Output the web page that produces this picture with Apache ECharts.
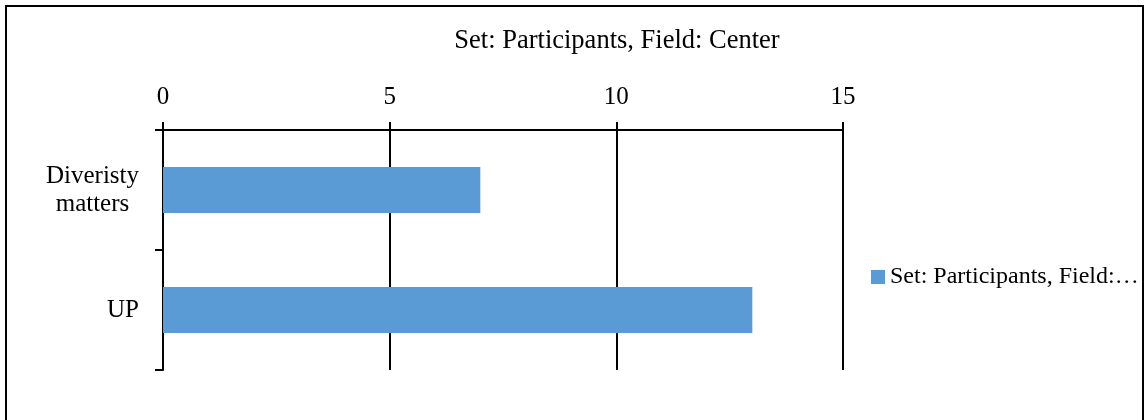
<!DOCTYPE html>
<html>
<head>
<meta charset="utf-8">
<script src="https://cdn.jsdelivr.net/npm/echarts@6/dist/echarts.min.js"></script>
<style>
html,body{margin:0;padding:0;background:#fff;}
#chart{width:1148px;height:420px;}
</style>
</head>
<body>
<div id="chart"></div>
<script>
const categories = ["Diveristy\nmatters", "UP"];
const values = [7, 13];
const seriesName = "Set: Participants, Field: Center";
const titleText = "Set: Participants, Field: Center";
const xTicks = { min: 0, max: 15, interval: 5 };

const FONT = "'Liberation Serif', 'Times New Roman', serif";
const chart = echarts.init(document.getElementById('chart'), null, { renderer: 'canvas' });
chart.setOption({
  animation: false,
  backgroundColor: '#ffffff',
  title: {
    text: titleText,
    left: 612,
    textAlign: 'center',
    top: 23,
    textStyle: { fontFamily: FONT, fontSize: 26.5, fontWeight: 'normal', color: '#000' }
  },
  legend: {
    left: 866,
    top: 260,
    itemWidth: 14,
    itemHeight: 14,
    icon: 'rect',
    data: [seriesName],
    textStyle: {
      fontFamily: FONT, fontSize: 24, color: '#000',
      width: 255, overflow: 'truncate', ellipsis: '…'
    }
  },
  grid: { left: 163, right: 305, top: 130, bottom: 50, containLabel: false },
  xAxis: {
    type: 'value',
    position: 'top',
    min: xTicks.min, max: xTicks.max, interval: xTicks.interval,
    axisLine: { show: true, lineStyle: { color: '#000', width: 2 } },
    axisTick: { show: true, length: 8, lineStyle: { color: '#000', width: 2 } },
    axisLabel: { margin: 20, fontFamily: FONT, fontSize: 25, color: '#000' },
    splitLine: { show: true, lineStyle: { color: '#000', width: 2 } }
  },
  yAxis: {
    type: 'category',
    inverse: true,
    data: categories,
    axisLine: { show: true, lineStyle: { color: '#000', width: 2 } },
    axisTick: { show: true, length: 8, lineStyle: { color: '#000', width: 2 } },
    axisLabel: {
      margin: 24, color: '#000',
      formatter: function (v) {
        return v.split('\n').map(function (s) { return '{c|' + s + '}'; }).join('\n');
      },
      rich: { c: { fontFamily: FONT, fontSize: 25, color: '#000', lineHeight: 28, align: 'center' } }
    },
    splitLine: { show: false }
  },
  series: [{
    name: seriesName,
    type: 'bar',
    data: values,
    barWidth: 46,
    itemStyle: { color: '#5B9BD5' }
  }],
  graphic: [{
    type: 'rect',
    shape: { x: 6, y: 6, width: 1137, height: 430 },
    style: { fill: 'none', stroke: '#000', lineWidth: 2 },
    silent: true
  }]
});
</script>
</body>
</html>
